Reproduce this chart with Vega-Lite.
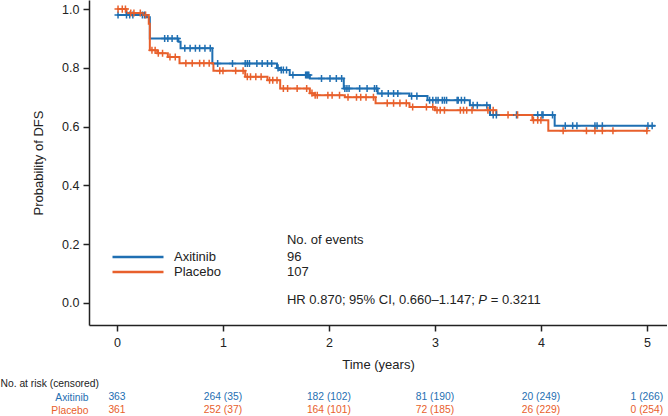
{
  "$schema": "https://vega.github.io/schema/vega-lite/v6.json",
  "padding": 0,
  "background": "white",
  "config": {
    "font": "Liberation Sans",
    "view": {"stroke": null},
    "concat": {"spacing": 5.5},
    "axis": {
      "domainColor": "#222", "domainWidth": 1.5, "tickColor": "#222", "tickWidth": 1.5,
      "labelFontSize": 12.5, "labelColor": "#222", "titleFontSize": 13,
      "titleFontWeight": "normal", "titleColor": "#222", "grid": false
    }
  },
  "datasets": {
    "km": [
      {"kind":"step","arm":"Axitinib","t":0,"s":0.98},
      {"kind":"step","arm":"Axitinib","t":0.28,"s":0.972},
      {"kind":"step","arm":"Axitinib","t":0.31,"s":0.90},
      {"kind":"step","arm":"Axitinib","t":0.58,"s":0.889},
      {"kind":"step","arm":"Axitinib","t":0.60,"s":0.867},
      {"kind":"step","arm":"Axitinib","t":0.90,"s":0.815},
      {"kind":"step","arm":"Axitinib","t":1.51,"s":0.80},
      {"kind":"step","arm":"Axitinib","t":1.54,"s":0.793},
      {"kind":"step","arm":"Axitinib","t":1.63,"s":0.776},
      {"kind":"step","arm":"Axitinib","t":1.82,"s":0.764},
      {"kind":"step","arm":"Axitinib","t":2.14,"s":0.73},
      {"kind":"step","arm":"Axitinib","t":2.46,"s":0.713},
      {"kind":"step","arm":"Axitinib","t":2.76,"s":0.704},
      {"kind":"step","arm":"Axitinib","t":2.93,"s":0.69},
      {"kind":"step","arm":"Axitinib","t":3.33,"s":0.673},
      {"kind":"step","arm":"Axitinib","t":3.52,"s":0.64},
      {"kind":"step","arm":"Axitinib","t":4.13,"s":0.603},
      {"kind":"step","arm":"Axitinib","t":5.08,"s":0.603},
      {"kind":"step","arm":"Placebo","t":0,"s":1.0},
      {"kind":"step","arm":"Placebo","t":0.09,"s":0.987},
      {"kind":"step","arm":"Placebo","t":0.26,"s":0.98},
      {"kind":"step","arm":"Placebo","t":0.30,"s":0.95},
      {"kind":"step","arm":"Placebo","t":0.31,"s":0.86},
      {"kind":"step","arm":"Placebo","t":0.38,"s":0.85},
      {"kind":"step","arm":"Placebo","t":0.48,"s":0.837},
      {"kind":"step","arm":"Placebo","t":0.59,"s":0.816},
      {"kind":"step","arm":"Placebo","t":0.91,"s":0.79},
      {"kind":"step","arm":"Placebo","t":1.21,"s":0.77},
      {"kind":"step","arm":"Placebo","t":1.42,"s":0.758},
      {"kind":"step","arm":"Placebo","t":1.54,"s":0.73},
      {"kind":"step","arm":"Placebo","t":1.82,"s":0.714},
      {"kind":"step","arm":"Placebo","t":1.86,"s":0.707},
      {"kind":"step","arm":"Placebo","t":2.15,"s":0.70},
      {"kind":"step","arm":"Placebo","t":2.44,"s":0.68},
      {"kind":"step","arm":"Placebo","t":2.76,"s":0.667},
      {"kind":"step","arm":"Placebo","t":3.00,"s":0.656},
      {"kind":"step","arm":"Placebo","t":3.58,"s":0.64},
      {"kind":"step","arm":"Placebo","t":3.92,"s":0.622},
      {"kind":"step","arm":"Placebo","t":4.07,"s":0.586},
      {"kind":"step","arm":"Placebo","t":5.01,"s":0.586},

      {"kind":"cens","arm":"Axitinib","t":0.01,"s":0.98},
      {"kind":"cens","arm":"Axitinib","t":0.09,"s":0.98},
      {"kind":"cens","arm":"Axitinib","t":0.12,"s":0.98},
      {"kind":"cens","arm":"Axitinib","t":0.15,"s":0.98},
      {"kind":"cens","arm":"Axitinib","t":0.24,"s":0.98},
      {"kind":"cens","arm":"Axitinib","t":0.26,"s":0.98},
      {"kind":"cens","arm":"Axitinib","t":0.45,"s":0.90},
      {"kind":"cens","arm":"Axitinib","t":0.48,"s":0.90},
      {"kind":"cens","arm":"Axitinib","t":0.52,"s":0.90},
      {"kind":"cens","arm":"Axitinib","t":0.57,"s":0.90},
      {"kind":"cens","arm":"Axitinib","t":0.64,"s":0.867},
      {"kind":"cens","arm":"Axitinib","t":0.69,"s":0.867},
      {"kind":"cens","arm":"Axitinib","t":0.74,"s":0.867},
      {"kind":"cens","arm":"Axitinib","t":0.78,"s":0.867},
      {"kind":"cens","arm":"Axitinib","t":0.83,"s":0.867},
      {"kind":"cens","arm":"Axitinib","t":0.88,"s":0.867},
      {"kind":"cens","arm":"Axitinib","t":0.95,"s":0.815},
      {"kind":"cens","arm":"Axitinib","t":1.09,"s":0.815},
      {"kind":"cens","arm":"Axitinib","t":1.21,"s":0.815},
      {"kind":"cens","arm":"Axitinib","t":1.23,"s":0.815},
      {"kind":"cens","arm":"Axitinib","t":1.25,"s":0.815},
      {"kind":"cens","arm":"Axitinib","t":1.32,"s":0.815},
      {"kind":"cens","arm":"Axitinib","t":1.37,"s":0.815},
      {"kind":"cens","arm":"Axitinib","t":1.42,"s":0.815},
      {"kind":"cens","arm":"Axitinib","t":1.46,"s":0.815},
      {"kind":"cens","arm":"Axitinib","t":1.52,"s":0.80},
      {"kind":"cens","arm":"Axitinib","t":1.55,"s":0.793},
      {"kind":"cens","arm":"Axitinib","t":1.57,"s":0.793},
      {"kind":"cens","arm":"Axitinib","t":1.60,"s":0.793},
      {"kind":"cens","arm":"Axitinib","t":1.66,"s":0.776},
      {"kind":"cens","arm":"Axitinib","t":1.78,"s":0.776},
      {"kind":"cens","arm":"Axitinib","t":1.79,"s":0.776},
      {"kind":"cens","arm":"Axitinib","t":1.80,"s":0.776},
      {"kind":"cens","arm":"Axitinib","t":1.81,"s":0.776},
      {"kind":"cens","arm":"Axitinib","t":1.93,"s":0.764},
      {"kind":"cens","arm":"Axitinib","t":2.01,"s":0.764},
      {"kind":"cens","arm":"Axitinib","t":2.07,"s":0.764},
      {"kind":"cens","arm":"Axitinib","t":2.12,"s":0.764},
      {"kind":"cens","arm":"Axitinib","t":2.15,"s":0.73},
      {"kind":"cens","arm":"Axitinib","t":2.17,"s":0.73},
      {"kind":"cens","arm":"Axitinib","t":2.19,"s":0.73},
      {"kind":"cens","arm":"Axitinib","t":2.29,"s":0.73},
      {"kind":"cens","arm":"Axitinib","t":2.36,"s":0.73},
      {"kind":"cens","arm":"Axitinib","t":2.43,"s":0.73},
      {"kind":"cens","arm":"Axitinib","t":2.45,"s":0.73},
      {"kind":"cens","arm":"Axitinib","t":2.50,"s":0.713},
      {"kind":"cens","arm":"Axitinib","t":2.56,"s":0.713},
      {"kind":"cens","arm":"Axitinib","t":2.61,"s":0.713},
      {"kind":"cens","arm":"Axitinib","t":2.65,"s":0.713},
      {"kind":"cens","arm":"Axitinib","t":2.78,"s":0.704},
      {"kind":"cens","arm":"Axitinib","t":2.83,"s":0.704},
      {"kind":"cens","arm":"Axitinib","t":2.95,"s":0.69},
      {"kind":"cens","arm":"Axitinib","t":2.98,"s":0.69},
      {"kind":"cens","arm":"Axitinib","t":3.01,"s":0.69},
      {"kind":"cens","arm":"Axitinib","t":3.03,"s":0.69},
      {"kind":"cens","arm":"Axitinib","t":3.07,"s":0.69},
      {"kind":"cens","arm":"Axitinib","t":3.09,"s":0.69},
      {"kind":"cens","arm":"Axitinib","t":3.11,"s":0.69},
      {"kind":"cens","arm":"Axitinib","t":3.21,"s":0.69},
      {"kind":"cens","arm":"Axitinib","t":3.22,"s":0.69},
      {"kind":"cens","arm":"Axitinib","t":3.25,"s":0.69},
      {"kind":"cens","arm":"Axitinib","t":3.28,"s":0.69},
      {"kind":"cens","arm":"Axitinib","t":3.36,"s":0.673},
      {"kind":"cens","arm":"Axitinib","t":3.40,"s":0.673},
      {"kind":"cens","arm":"Axitinib","t":3.49,"s":0.673},
      {"kind":"cens","arm":"Axitinib","t":3.55,"s":0.64},
      {"kind":"cens","arm":"Axitinib","t":3.58,"s":0.64},
      {"kind":"cens","arm":"Axitinib","t":3.77,"s":0.64},
      {"kind":"cens","arm":"Axitinib","t":3.97,"s":0.64},
      {"kind":"cens","arm":"Axitinib","t":4.01,"s":0.64},
      {"kind":"cens","arm":"Axitinib","t":4.02,"s":0.64},
      {"kind":"cens","arm":"Axitinib","t":4.11,"s":0.64},
      {"kind":"cens","arm":"Axitinib","t":4.23,"s":0.603},
      {"kind":"cens","arm":"Axitinib","t":4.30,"s":0.603},
      {"kind":"cens","arm":"Axitinib","t":4.34,"s":0.603},
      {"kind":"cens","arm":"Axitinib","t":4.51,"s":0.603},
      {"kind":"cens","arm":"Axitinib","t":4.53,"s":0.603},
      {"kind":"cens","arm":"Axitinib","t":4.58,"s":0.603},
      {"kind":"cens","arm":"Axitinib","t":5.01,"s":0.603},
      {"kind":"cens","arm":"Axitinib","t":5.05,"s":0.603},

      {"kind":"cens","arm":"Placebo","t":0.01,"s":1.0},
      {"kind":"cens","arm":"Placebo","t":0.05,"s":1.0},
      {"kind":"cens","arm":"Placebo","t":0.08,"s":1.0},
      {"kind":"cens","arm":"Placebo","t":0.13,"s":0.987},
      {"kind":"cens","arm":"Placebo","t":0.16,"s":0.987},
      {"kind":"cens","arm":"Placebo","t":0.22,"s":0.987},
      {"kind":"cens","arm":"Placebo","t":0.27,"s":0.98},
      {"kind":"cens","arm":"Placebo","t":0.33,"s":0.86},
      {"kind":"cens","arm":"Placebo","t":0.36,"s":0.86},
      {"kind":"cens","arm":"Placebo","t":0.39,"s":0.85},
      {"kind":"cens","arm":"Placebo","t":0.43,"s":0.85},
      {"kind":"cens","arm":"Placebo","t":0.50,"s":0.837},
      {"kind":"cens","arm":"Placebo","t":0.55,"s":0.837},
      {"kind":"cens","arm":"Placebo","t":0.65,"s":0.816},
      {"kind":"cens","arm":"Placebo","t":0.71,"s":0.816},
      {"kind":"cens","arm":"Placebo","t":0.78,"s":0.816},
      {"kind":"cens","arm":"Placebo","t":0.82,"s":0.816},
      {"kind":"cens","arm":"Placebo","t":0.87,"s":0.816},
      {"kind":"cens","arm":"Placebo","t":0.97,"s":0.79},
      {"kind":"cens","arm":"Placebo","t":1.00,"s":0.79},
      {"kind":"cens","arm":"Placebo","t":1.12,"s":0.79},
      {"kind":"cens","arm":"Placebo","t":1.19,"s":0.79},
      {"kind":"cens","arm":"Placebo","t":1.23,"s":0.77},
      {"kind":"cens","arm":"Placebo","t":1.26,"s":0.77},
      {"kind":"cens","arm":"Placebo","t":1.31,"s":0.77},
      {"kind":"cens","arm":"Placebo","t":1.36,"s":0.77},
      {"kind":"cens","arm":"Placebo","t":1.44,"s":0.758},
      {"kind":"cens","arm":"Placebo","t":1.47,"s":0.758},
      {"kind":"cens","arm":"Placebo","t":1.51,"s":0.758},
      {"kind":"cens","arm":"Placebo","t":1.57,"s":0.73},
      {"kind":"cens","arm":"Placebo","t":1.61,"s":0.73},
      {"kind":"cens","arm":"Placebo","t":1.70,"s":0.73},
      {"kind":"cens","arm":"Placebo","t":1.79,"s":0.73},
      {"kind":"cens","arm":"Placebo","t":1.84,"s":0.714},
      {"kind":"cens","arm":"Placebo","t":1.87,"s":0.707},
      {"kind":"cens","arm":"Placebo","t":1.89,"s":0.707},
      {"kind":"cens","arm":"Placebo","t":1.99,"s":0.707},
      {"kind":"cens","arm":"Placebo","t":2.03,"s":0.707},
      {"kind":"cens","arm":"Placebo","t":2.10,"s":0.707},
      {"kind":"cens","arm":"Placebo","t":2.18,"s":0.70},
      {"kind":"cens","arm":"Placebo","t":2.26,"s":0.70},
      {"kind":"cens","arm":"Placebo","t":2.30,"s":0.70},
      {"kind":"cens","arm":"Placebo","t":2.35,"s":0.70},
      {"kind":"cens","arm":"Placebo","t":2.42,"s":0.70},
      {"kind":"cens","arm":"Placebo","t":2.55,"s":0.68},
      {"kind":"cens","arm":"Placebo","t":2.61,"s":0.68},
      {"kind":"cens","arm":"Placebo","t":2.67,"s":0.68},
      {"kind":"cens","arm":"Placebo","t":2.73,"s":0.68},
      {"kind":"cens","arm":"Placebo","t":2.79,"s":0.667},
      {"kind":"cens","arm":"Placebo","t":2.92,"s":0.667},
      {"kind":"cens","arm":"Placebo","t":2.98,"s":0.667},
      {"kind":"cens","arm":"Placebo","t":3.02,"s":0.656},
      {"kind":"cens","arm":"Placebo","t":3.05,"s":0.656},
      {"kind":"cens","arm":"Placebo","t":3.09,"s":0.656},
      {"kind":"cens","arm":"Placebo","t":3.24,"s":0.656},
      {"kind":"cens","arm":"Placebo","t":3.27,"s":0.656},
      {"kind":"cens","arm":"Placebo","t":3.30,"s":0.656},
      {"kind":"cens","arm":"Placebo","t":3.35,"s":0.656},
      {"kind":"cens","arm":"Placebo","t":3.50,"s":0.656},
      {"kind":"cens","arm":"Placebo","t":3.55,"s":0.656},
      {"kind":"cens","arm":"Placebo","t":3.69,"s":0.64},
      {"kind":"cens","arm":"Placebo","t":3.78,"s":0.64},
      {"kind":"cens","arm":"Placebo","t":3.93,"s":0.622},
      {"kind":"cens","arm":"Placebo","t":3.97,"s":0.622},
      {"kind":"cens","arm":"Placebo","t":4.00,"s":0.622},
      {"kind":"cens","arm":"Placebo","t":4.21,"s":0.586},
      {"kind":"cens","arm":"Placebo","t":4.43,"s":0.586},
      {"kind":"cens","arm":"Placebo","t":4.51,"s":0.586},
      {"kind":"cens","arm":"Placebo","t":4.58,"s":0.586},
      {"kind":"cens","arm":"Placebo","t":4.68,"s":0.586},
      {"kind":"cens","arm":"Placebo","t":5.00,"s":0.586}
    ],
    "risk": [
      {"arm":"Axitinib","t":0,"n":"363"},
      {"arm":"Axitinib","t":1,"n":"264 (35)"},
      {"arm":"Axitinib","t":2,"n":"182 (102)"},
      {"arm":"Axitinib","t":3,"n":"81 (190)"},
      {"arm":"Axitinib","t":4,"n":"20 (249)"},
      {"arm":"Axitinib","t":5,"n":"1 (266)"},
      {"arm":"Placebo","t":0,"n":"361"},
      {"arm":"Placebo","t":1,"n":"252 (37)"},
      {"arm":"Placebo","t":2,"n":"164 (101)"},
      {"arm":"Placebo","t":3,"n":"72 (185)"},
      {"arm":"Placebo","t":4,"n":"26 (229)"},
      {"arm":"Placebo","t":5,"n":"0 (254)"}
    ]
  },
  "resolve": {"scale": {"color": "independent", "x": "independent", "y": "independent"}, "legend": {"color": "independent"}},
  "vconcat": [
    {
      "width": 578,
      "height": 325,
      "layer": [
        {
          "data": {"name": "km"},
          "transform": [{"filter": "datum.kind === 'step'"}],
          "mark": {"type": "line", "interpolate": "step-after", "strokeWidth": 2},
          "encoding": {
            "x": {"field": "t", "type": "quantitative",
                  "scale": {"domain": [-0.264, 5.19], "nice": false, "zero": false},
                  "axis": {"values": [0,1,2,3,4,5], "format": "d", "title": "Time (years)", "titleFontWeight": "normal", "tickSize": 6, "labelPadding": 5, "titlePadding": 10}},
            "y": {"field": "s", "type": "quantitative",
                  "scale": {"domain": [-0.075, 1.031], "nice": false, "zero": false},
                  "axis": {"values": [0,0.2,0.4,0.6,0.8,1], "format": ".1f", "title": "Probability of DFS", "titleFontWeight": "normal", "tickSize": 6, "labelPadding": 4, "titlePadding": 16}},
            "color": {"field": "arm", "type": "nominal",
                      "scale": {"domain": ["Axitinib","Placebo"], "range": ["#1f6fb2","#e8602c"]},
                      "legend": {"title": null, "orient": "none", "legendX": 22, "legendY": 249.5,
                                 "symbolType": "stroke", "symbolSize": 2600, "symbolStrokeWidth": 2.5,
                                 "clipHeight": 15, "rowPadding": 0,
                                 "labelFontSize": 13, "labelColor": "#222", "labelOffset": 9}}
          }
        },
        {
          "data": {"name": "km"},
          "transform": [{"filter": "datum.kind === 'cens'"}],
          "mark": {"type": "point", "shape": "M-1,0H1M0,-1V1", "filled": false, "size": 50, "strokeWidth": 1.5, "opacity": 1},
          "encoding": {
            "x": {"field": "t", "type": "quantitative"},
            "y": {"field": "s", "type": "quantitative"},
            "stroke": {"field": "arm", "type": "nominal",
                       "scale": {"domain": ["Axitinib","Placebo"], "range": ["#1f6fb2","#e8602c"]},
                       "legend": null}
          }
        },
        {
          "data": {"values": [{}]},
          "mark": {"type": "text", "align": "left", "baseline": "middle", "fontSize": 13, "color": "#222"},
          "encoding": {"x": {"datum": 1.604}, "y": {"datum": 0.214}, "text": {"value": "No. of events"}}
        },
        {
          "data": {"values": [{}]},
          "mark": {"type": "text", "align": "left", "baseline": "middle", "fontSize": 13, "color": "#222"},
          "encoding": {"x": {"datum": 1.604}, "y": {"datum": 0.156}, "text": {"value": "96"}}
        },
        {
          "data": {"values": [{}]},
          "mark": {"type": "text", "align": "left", "baseline": "middle", "fontSize": 13, "color": "#222"},
          "encoding": {"x": {"datum": 1.604}, "y": {"datum": 0.105}, "text": {"value": "107"}}
        },
        {
          "data": {"values": [{}]},
          "mark": {"type": "text", "align": "left", "baseline": "middle", "fontSize": 13, "color": "#222"},
          "encoding": {"x": {"datum": 1.604}, "y": {"datum": 0.01}, "text": {"value": "HR 0.870; 95% CI, 0.660–1.147;"}}
        },
        {
          "data": {"values": [{}]},
          "mark": {"type": "text", "align": "left", "baseline": "middle", "fontSize": 13, "fontStyle": "italic", "color": "#222", "dx": 191.4},
          "encoding": {"x": {"datum": 1.604}, "y": {"datum": 0.01}, "text": {"value": "P"}}
        },
        {
          "data": {"values": [{}]},
          "mark": {"type": "text", "align": "left", "baseline": "middle", "fontSize": 13, "color": "#222", "dx": 203.8},
          "encoding": {"x": {"datum": 1.604}, "y": {"datum": 0.01}, "text": {"value": "= 0.3211"}}
        }
      ]
    },
    {
      "width": 578,
      "height": 26,
      "data": {"name": "risk"},
      "mark": {"type": "text", "fontSize": 10.3, "baseline": "middle", "align": "center"},
      "encoding": {
        "x": {"field": "t", "type": "quantitative", "scale": {"domain": [-0.264, 5.19], "nice": false, "zero": false}, "axis": null},
        "y": {"field": "arm", "type": "nominal", "sort": ["Axitinib","Placebo"],
              "scale": {"paddingInner": 0, "paddingOuter": 0},
              "axis": {"domain": false, "ticks": false, "labelPadding": 1, "labelFontSize": 10.3,
                       "labelColor": {"condition": {"test": "datum.value === 'Axitinib'", "value": "#1f6fb2"}, "value": "#e8602c"},
                       "title": "No. at risk (censored)", "titleAngle": 0, "titleAlign": "left", "titleBaseline": "middle",
                       "titleX": -89, "titleY": -7.5, "titleFontSize": 10.3, "titleFontWeight": "normal", "titleColor": "#222"}},
        "text": {"field": "n"},
        "color": {"field": "arm", "type": "nominal",
                  "scale": {"domain": ["Axitinib","Placebo"], "range": ["#1f6fb2","#e8602c"]},
                  "legend": null}
      }
    }
  ]
}
